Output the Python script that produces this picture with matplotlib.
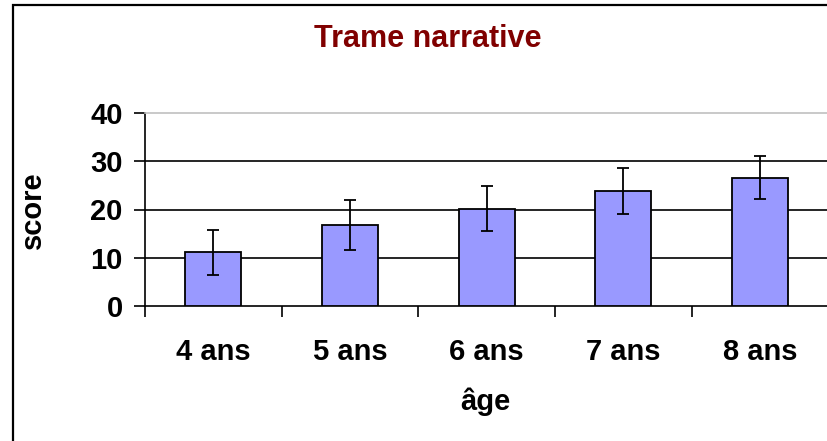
import matplotlib
matplotlib.use("Agg")
import matplotlib.pyplot as plt
from matplotlib.patches import Rectangle

categories = ["4 ans", "5 ans", "6 ans", "7 ans", "8 ans"]
scores = [11.1, 16.8, 20.2, 23.9, 26.6]
errors = [4.7, 5.1, 4.7, 4.75, 4.5]
yticks = [0, 10, 20, 30, 40]

plt.rcParams['font.family'] = ['Liberation Sans', 'DejaVu Sans']

W, H = 827, 441
fig = plt.figure(figsize=(W / 100, H / 100), dpi=100)
fig.patch.set_facecolor("white")

# figure border (cropped on right and bottom)
fig.add_artist(Rectangle((13 / W, -0.05), 1.1, 1 - 5 / H + 0.05, transform=fig.transFigure,
                         fill=False, edgecolor="black", linewidth=1.6))

left, right = 145 / W, 828.5 / W
bottom, top = 1 - 306 / H, 1 - 113 / H
ax = fig.add_axes([left, bottom, right - left, top - bottom])

x = list(range(len(categories)))
ax.bar(x, scores, width=0.41, color="#9999FF", edgecolor="black", linewidth=1.3, zorder=3)
ax.errorbar(x, scores, yerr=errors, fmt="none", ecolor="black", elinewidth=1.3,
            capsize=4, capthick=1.3, zorder=4)

ax.set_xlim(-0.5, len(categories) - 0.5)
ax.set_ylim(0, 40)
ax.set_yticks(yticks)
ax.set_yticklabels([str(v) for v in yticks], fontsize=21, fontweight="bold")
for v in yticks[1:-1]:
    ax.axhline(v, color="black", linewidth=1.2, zorder=1)

ax.set_xticks([i + 0.5 for i in range(-1, len(categories))], minor=False)
ax.set_xticklabels([])
ax.set_xticks(x, minor=True)
ax.set_xticklabels(categories, minor=True, fontsize=21, fontweight="bold")
ax.tick_params(axis="x", which="minor", length=0, pad=23)
ax.tick_params(axis="x", which="major", length=8, width=1.2, direction="out")
ax.tick_params(axis="y", length=8, width=1.2, direction="out", pad=8)

ax.spines["left"].set_linewidth(1.2)
ax.spines["bottom"].set_linewidth(1.2)
ax.spines["top"].set_color("#c0c0c0")
ax.spines["top"].set_linewidth(1.2)
ax.spines["right"].set_visible(False)

fig.text(428 / W, 1 - 39 / H, "Trame narrative", color="#800000", fontsize=22,
         fontweight="bold", ha="center", va="center")
fig.text(33 / W, 1 - 210 / H, "score", fontsize=21, fontweight="bold",
         rotation=90, ha="center", va="center")
fig.text(485 / W, 1 - 402 / H, "âge", fontsize=21, fontweight="bold",
         ha="center", va="center")

fig.savefig("out.png", dpi=100)
